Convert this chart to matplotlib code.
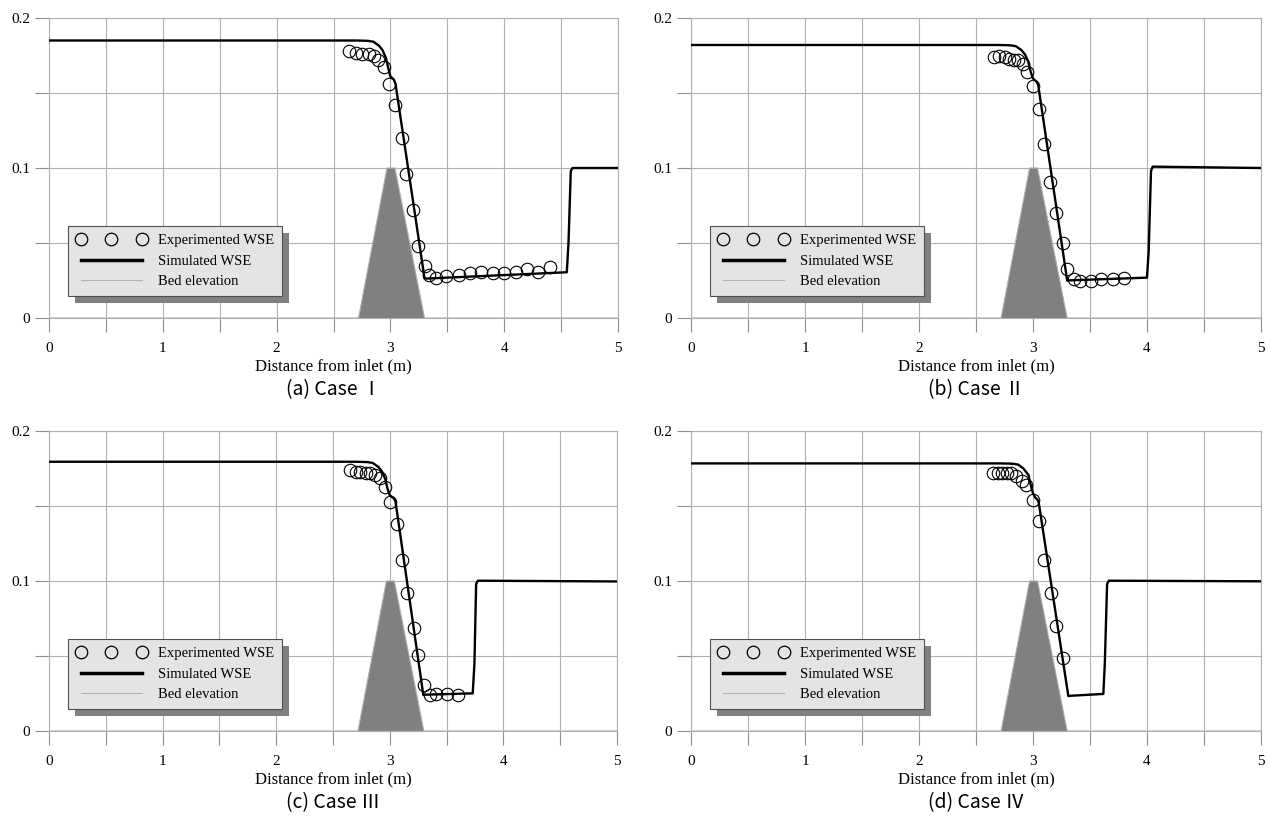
import matplotlib
matplotlib.use("Agg")
import matplotlib.pyplot as plt
from matplotlib.lines import Line2D
from matplotlib.patches import Rectangle
from matplotlib.ticker import MultipleLocator, FixedLocator

plt.rcParams['font.family'] = ['Liberation Serif', 'DejaVu Serif']

# bed (trapezoidal weir)
bed_x = [0.0, 2.72, 2.97, 3.04, 3.30, 5.0]
bed_y = [0.0, 0.0, 0.1, 0.1, 0.0, 0.0]

# ---- Case I ----
exp1_x = [2.64, 2.70, 2.75, 2.81, 2.86, 2.89, 2.94, 2.99, 3.04, 3.10, 3.14, 3.20, 3.24, 3.30,
          3.34, 3.40, 3.49, 3.60, 3.70, 3.80, 3.90, 4.00, 4.10, 4.20, 4.30, 4.40]
exp1_y = [0.178, 0.177, 0.176, 0.176, 0.175, 0.172, 0.167, 0.156, 0.142, 0.120, 0.096, 0.072,
          0.048, 0.035, 0.029, 0.027, 0.028, 0.029, 0.030, 0.031, 0.030, 0.030, 0.031, 0.033,
          0.031, 0.034]
sim1_x = [0.0, 2.70, 2.80, 2.85, 2.90, 2.93, 2.96, 2.98, 3.00, 3.03, 3.045, 3.30, 3.32,
          4.55, 4.565, 4.585, 4.60, 5.0]
sim1_y = [0.185, 0.185, 0.1848, 0.1842, 0.1815, 0.1787, 0.1735, 0.167, 0.161, 0.159, 0.156,
          0.0265, 0.0263, 0.0305, 0.050, 0.098, 0.100, 0.100]

# ---- Case II ----
exp2_x = [2.66, 2.70, 2.75, 2.79, 2.83, 2.87, 2.91, 2.95, 3.00, 3.05, 3.10, 3.15, 3.20, 3.26,
          3.30, 3.36, 3.41, 3.51, 3.60, 3.70, 3.80]
exp2_y = [0.174, 0.175, 0.174, 0.173, 0.172, 0.172, 0.169, 0.164, 0.155, 0.139, 0.116, 0.091,
          0.070, 0.050, 0.033, 0.026, 0.025, 0.025, 0.026, 0.026, 0.027]
sim2_x = [0.0, 2.70, 2.80, 2.85, 2.90, 2.93, 2.96, 2.98, 3.00, 3.03, 3.045, 3.30, 3.32,
          4.00, 4.015, 4.035, 4.05, 5.0]
sim2_y = [0.182, 0.182, 0.1818, 0.1812, 0.1785, 0.1757, 0.1705, 0.164, 0.1596, 0.1576, 0.1556,
          0.0249, 0.0251, 0.0269, 0.045, 0.098, 0.1009, 0.100]

# ---- Case III ----
exp3_x = [2.65, 2.70, 2.74, 2.79, 2.83, 2.87, 2.91, 2.96, 3.00, 3.06, 3.11, 3.15, 3.21, 3.25,
          3.30, 3.35, 3.41, 3.50, 3.60]
exp3_y = [0.174, 0.173, 0.173, 0.172, 0.172, 0.171, 0.169, 0.163, 0.153, 0.138, 0.114, 0.092,
          0.069, 0.051, 0.031, 0.024, 0.025, 0.025, 0.024]
sim3_x = [0.0, 2.70, 2.80, 2.85, 2.90, 2.93, 2.96, 2.98, 3.00, 3.035, 3.05, 3.295, 3.31,
          3.73, 3.745, 3.76, 3.775, 5.0]
sim3_y = [0.1795, 0.1795, 0.1793, 0.1787, 0.176, 0.1732, 0.168, 0.1615, 0.1571, 0.1551, 0.1531,
          0.024, 0.0242, 0.0251, 0.045, 0.098, 0.1002, 0.0997]

# ---- Case IV ----
exp4_x = [2.65, 2.69, 2.73, 2.77, 2.81, 2.85, 2.90, 2.94, 3.00, 3.05, 3.10, 3.16, 3.20, 3.26]
exp4_y = [0.172, 0.172, 0.172, 0.172, 0.172, 0.170, 0.167, 0.164, 0.154, 0.140, 0.114, 0.092,
          0.070, 0.049]
sim4_x = [0.0, 2.72, 2.82, 2.87, 2.915, 2.96, 2.98, 3.00, 3.02, 3.038, 3.05, 3.31, 3.33,
          3.617, 3.63, 3.65, 3.665, 5.0]
sim4_y = [0.1784, 0.1784, 0.1782, 0.1776, 0.1751, 0.1707, 0.164, 0.1585, 0.1555, 0.1544, 0.1524,
          0.0233, 0.0235, 0.0247, 0.045, 0.098, 0.1002, 0.0998]

captions = ['(a) Case Ⅰ', '(b) Case Ⅱ', '(c) Case Ⅲ', '(d) Case Ⅳ']
xticks = [0, 1, 2, 3, 4, 5]
yticks = [0, 0.1, 0.2]
ytick_labels = ['0', '0.1', '0.2']

W, H = 1269, 826
fig = plt.figure(figsize=(W / 100, H / 100), dpi=100)

# axes boxes in pixels: left, right, top, bottom
boxes = [(49, 618, 18, 318), (691, 1261, 18, 318), (49, 617, 431, 731), (691, 1261, 431, 731)]
cases = [(exp1_x, exp1_y, sim1_x, sim1_y), (exp2_x, exp2_y, sim2_x, sim2_y),
         (exp3_x, exp3_y, sim3_x, sim3_y), (exp4_x, exp4_y, sim4_x, sim4_y)]

grid_col = '#b0b0b0'
axes = []
legends = []
for (l, r, t, b), (ex, ey, sx, sy), cap in zip(boxes, cases, captions):
    ax = fig.add_axes([l / W, 1 - b / H, (r - l) / W, (b - t) / H])
    ax.fill(bed_x, bed_y, color='#808080', lw=0, zorder=2)
    ax.plot(bed_x, bed_y, color='#b0b0b0', lw=0.8, zorder=2.1)
    ax.plot(sx, sy, color='black', lw=1.7, zorder=3)
    ax.plot(ex, ey, 'o', mfc='none', mec='black', ms=9, mew=0.8, zorder=4)

    ax.set_xlim(0, 5)
    ax.set_ylim(0, 0.2)
    ax.xaxis.set_major_locator(FixedLocator(xticks))
    ax.xaxis.set_minor_locator(MultipleLocator(0.5))
    ax.yaxis.set_major_locator(FixedLocator(yticks))
    ax.yaxis.set_minor_locator(MultipleLocator(0.05))
    ax.set_xticklabels([str(v) for v in xticks])
    ax.set_yticklabels(ytick_labels)
    ax.grid(True, which='both', color=grid_col, lw=0.8, zorder=0)
    ax.set_axisbelow(True)
    for s in ax.spines.values():
        s.set_color(grid_col)
        s.set_linewidth(0.8)
    ax.tick_params(axis='both', which='both', direction='out', length=10, width=0.8,
                   color='#909090', labelsize=11)
    ax.tick_params(axis='x', which='both', pad=7)
    ax.tick_params(axis='y', which='both', pad=3.5)
    ax.set_xlabel('Distance from inlet (m)', fontsize=12, labelpad=3)

    handles = [Line2D([], [], ls='none', marker='o', mfc='none', mec='black', ms=9, mew=0.9),
               Line2D([], [], color='black', lw=2.5),
               Line2D([], [], color='#b0b0b0', lw=0.8)]
    leg = ax.legend(handles, ['Experimented WSE', 'Simulated WSE', 'Bed elevation'],
                    loc='upper left', bbox_to_anchor=(0.034, 0.306), borderaxespad=0,
                    numpoints=3, handlelength=4.8, handletextpad=0.8, labelspacing=0.5,
                    borderpad=0.55, fontsize=10.5, frameon=True, fancybox=False,
                    facecolor='#e4e4e4', edgecolor='#505050', framealpha=1)
    leg.get_frame().set_linewidth(0.8)
    leg.set_zorder(6)
    axes.append(ax)
    legends.append(leg)

    fig.text((l + r) / 2 / W, 1 - (b + 72) / H, cap, ha='center', va='center', fontsize=14,
             family=['Noto Sans CJK KR', 'DejaVu Sans'])

# shadow behind the legend boxes
fig.canvas.draw()
for ax, leg in zip(axes, legends):
    bb = leg.get_window_extent()
    inv = ax.transAxes.inverted()
    (x0, y0), (x1, y1) = inv.transform([[bb.x0 + 7, bb.y0 - 7], [bb.x1 + 7, bb.y1 - 7]])
    ax.add_patch(Rectangle((x0, y0), x1 - x0, y1 - y0, transform=ax.transAxes,
                           facecolor='#808080', edgecolor='none', zorder=5.5, clip_on=False))

fig.savefig('out.png', dpi=100)
